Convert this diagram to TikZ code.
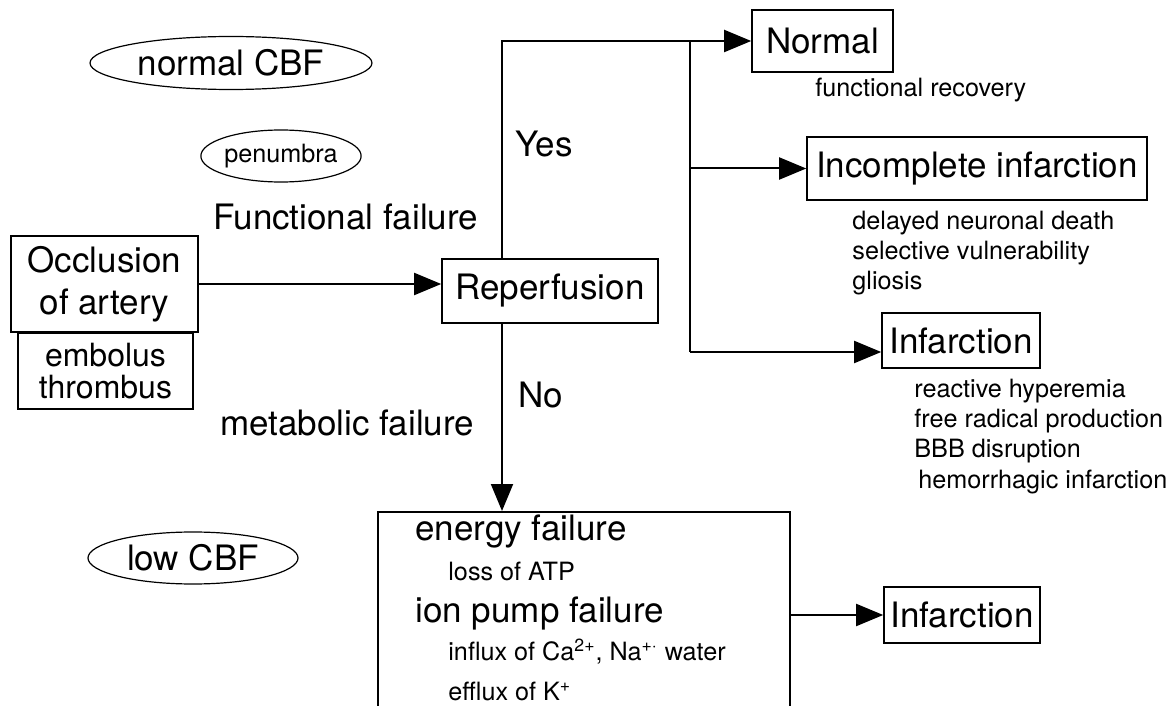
\documentclass[tikz,border=0pt]{standalone}
\usepackage{fontspec}
\setmainfont{TeX Gyre Heros}
\usetikzlibrary{arrows.meta,shapes.geometric}
\newcommand\lgf{\fontsize{17.5pt}{21pt}\selectfont}
\newcommand\smf{\fontsize{12.6pt}{15pt}\selectfont}
\begin{document}
\begin{tikzpicture}[x=0.5pt,y=-0.5pt,
  >={Triangle[length=13.5pt,width=11pt]},
  box/.style={draw,line width=0.8pt,inner sep=0pt,font=\lgf,align=center},
  oval/.style={draw,ellipse,line width=0.6pt,inner sep=0pt},
  txt/.style={anchor=base west,inner sep=0pt},
  line/.style={line width=1pt}]
\useasboundingbox (0,0) rectangle (1175,706);
\clip (0,0) rectangle (1175,706);
\node[oval,minimum width=141pt,minimum height=26.5pt,font=\lgf] (nc) at (231,63) {normal CBF};
\node[oval,minimum width=78.5pt,minimum height=26pt,font=\smf] (pe) at (281,156) {penumbra};
\node[oval,minimum width=105pt,minimum height=26pt,font=\lgf] (lc) at (193,558) {low CBF};
\node[txt,font=\lgf] (ff) at (213,230) {Functional failure};
\node[txt,font=\lgf] (mf) at (220,436) {metabolic failure};
\node[txt,font=\lgf] (yes) at (515,157) {Yes};
\node[txt,font=\lgf] (no) at (518,408) {No};

\node[box,minimum width=93.5pt,minimum height=48pt] (O) at (104.5,284) {Occlusion\\of artery};
\node[box,minimum width=87.5pt,minimum height=38pt,font={\fontsize{16pt}{16pt}\selectfont}] (E) at (105.5,371) {embolus\\thrombus};
\node[box,minimum width=108pt,minimum height=32pt] (R) at (550,291) {Reperfusion};
\node[box,minimum width=70.5pt,minimum height=31pt] (N) at (822.5,41) {Normal};
\node[box,minimum width=170pt,minimum height=31.5pt] (I) at (977,168.5) {Incomplete infarction};
\node[box,minimum width=79pt,minimum height=27.5pt] (F1) at (961,340.5) {Infarction};
\node[box,minimum width=78pt,minimum height=28pt] (F2) at (962,615) {Infarction};
\node[box,minimum width=206pt,minimum height=150pt,anchor=north] (M) at (584,511) {};

\node[txt,font=\smf] (n1) at (815,97) {functional recovery};
\node[txt,font=\smf] (i1) at (852,230) {delayed neuronal death};
\node[txt,font=\smf] (i2) at (852,260) {selective vulnerability};
\node[txt,font=\smf] (i3) at (852,290) {gliosis};
\node[txt,font=\smf] (f1) at (914,398) {reactive hyperemia};
\node[txt,font=\smf] (f2) at (914,428) {free radical production};
\node[txt,font=\smf] (f3) at (914,458) {BBB disruption};
\node[txt,font=\smf] (f4) at (918,488) {hemorrhagic infarction};
\node[txt,font=\lgf] (m1) at (415,540) {energy failure};
\node[txt,font=\smf] (m2) at (448,580) {loss of ATP};
\node[txt,font=\lgf] (m3) at (415,622) {ion pump failure};
\node[txt,font=\smf] (m4) at (448,660) {influx of Ca\textsuperscript{2+}, Na\textsuperscript{+·} water};
\node[txt,font=\smf] (m5) at (448,700) {efflux of K\textsuperscript{+}};

\coordinate (t) at (502,41);
\coordinate (s) at (690,41);
\coordinate (j) at (690,352);
\draw[line,->](O.east) -- (O.east -| R.west);
\draw[line,->](R.north -| t) -- (t) -- (N.west);
\draw[line](s) -- (j);
\draw[line,->](s |- I.west) -- (I.west);
\draw[line,->](j) -- (j -| F1.west);
\draw[line,->](R.south -| t) -- (M.north -| t);
\draw[line,->](M.east |- F2.west) -- (F2.west);
\end{tikzpicture}
\end{document}
